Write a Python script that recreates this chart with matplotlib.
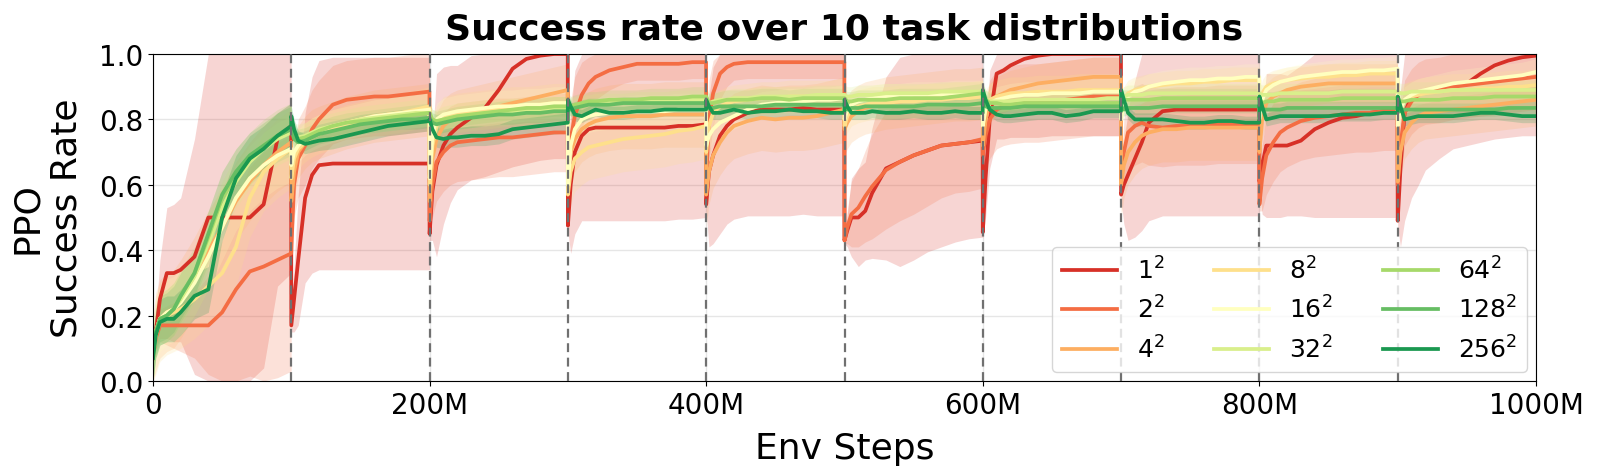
import numpy as np
import matplotlib
matplotlib.use("Agg")
import matplotlib.pyplot as plt
from matplotlib.ticker import FuncFormatter

# ---------------- data ----------------
SEG_STARTS = [0, 100, 200, 300, 400, 500, 600, 700, 800, 900]   # M env steps
OFFSETS = [0, 2, 5, 10, 15, 20, 30, 40, 50, 60, 70, 80, 90, 99.9]

LABELS = ["$1^2$", "$2^2$", "$4^2$", "$8^2$", "$16^2$", "$32^2$", "$64^2$", "$128^2$", "$256^2$"]
COLORS = ["#d73027", "#f46d43", "#fdae61", "#fee08b", "#ffffbf",
          "#d9ef8b", "#a6d96a", "#66bd63", "#1a9850"]

SR_1 = [
    [0.07, 0.15, 0.25, 0.33, 0.33, 0.34, 0.38, 0.50, 0.50, 0.50, 0.50, 0.54, 0.74, 0.78],
    [0.17, 0.25, 0.37, 0.56, 0.63, 0.66, 0.665, 0.665, 0.665, 0.665, 0.665, 0.665, 0.665, 0.665],
    [0.45, 0.58, 0.66, 0.72, 0.755, 0.775, 0.805, 0.835, 0.89, 0.955, 0.985, 0.995, 1.0, 1.0],
    [0.475, 0.60, 0.70, 0.75, 0.77, 0.775, 0.775, 0.775, 0.775, 0.775, 0.775, 0.78, 0.78, 0.785],
    [0.54, 0.64, 0.69, 0.75, 0.78, 0.80, 0.82, 0.83, 0.83, 0.83, 0.835, 0.83, 0.83, 0.83],
    [0.43, 0.46, 0.50, 0.50, 0.52, 0.575, 0.65, 0.67, 0.69, 0.705, 0.72, 0.725, 0.73, 0.735],
    [0.455, 0.62, 0.80, 0.94, 0.95, 0.965, 0.985, 0.995, 1.0, 1.0, 1.0, 1.0, 1.0, 1.0],
    [0.57, 0.60, 0.63, 0.68, 0.73, 0.79, 0.825, 0.83, 0.83, 0.83, 0.83, 0.83, 0.83, 0.83],
    [0.61, 0.66, 0.72, 0.72, 0.72, 0.72, 0.735, 0.77, 0.79, 0.805, 0.81, 0.82, 0.825, 0.825],
    [0.49, 0.65, 0.82, 0.87, 0.88, 0.885, 0.89, 0.90, 0.91, 0.94, 0.965, 0.98, 0.99, 0.995],
]
SR_2 = [
    [0.07, 0.13, 0.17, 0.17, 0.17, 0.17, 0.17, 0.17, 0.21, 0.28, 0.335, 0.35, 0.37, 0.39],
    [0.40, 0.60, 0.68, 0.72, 0.77, 0.80, 0.845, 0.86, 0.865, 0.87, 0.87, 0.875, 0.88, 0.885],
    [0.49, 0.60, 0.67, 0.70, 0.72, 0.73, 0.735, 0.74, 0.745, 0.745, 0.75, 0.755, 0.76, 0.76],
    [0.66, 0.74, 0.81, 0.875, 0.91, 0.93, 0.95, 0.96, 0.97, 0.97, 0.97, 0.97, 0.975, 0.975],
    [0.62, 0.80, 0.88, 0.94, 0.96, 0.97, 0.975, 0.975, 0.975, 0.975, 0.975, 0.975, 0.975, 0.975],
    [0.43, 0.47, 0.51, 0.53, 0.565, 0.595, 0.645, 0.67, 0.69, 0.705, 0.72, 0.725, 0.73, 0.74],
    [0.69, 0.75, 0.80, 0.83, 0.84, 0.845, 0.85, 0.85, 0.855, 0.86, 0.865, 0.87, 0.87, 0.87],
    [0.61, 0.70, 0.76, 0.78, 0.79, 0.78, 0.775, 0.78, 0.78, 0.78, 0.785, 0.785, 0.785, 0.785],
    [0.54, 0.62, 0.69, 0.73, 0.76, 0.775, 0.795, 0.805, 0.81, 0.815, 0.82, 0.82, 0.825, 0.825],
    [0.60, 0.72, 0.82, 0.855, 0.875, 0.885, 0.89, 0.90, 0.905, 0.91, 0.915, 0.92, 0.925, 0.93],
]
SR_4 = [
    [0.07, 0.15, 0.19, 0.21, 0.22, 0.25, 0.32, 0.40, 0.47, 0.55, 0.61, 0.66, 0.70, 0.73],
    [0.55, 0.64, 0.70, 0.73, 0.75, 0.76, 0.775, 0.79, 0.80, 0.81, 0.815, 0.82, 0.825, 0.83],
    [0.55, 0.68, 0.74, 0.78, 0.80, 0.81, 0.82, 0.83, 0.84, 0.85, 0.86, 0.87, 0.88, 0.89],
    [0.65, 0.70, 0.74, 0.77, 0.785, 0.795, 0.805, 0.81, 0.81, 0.81, 0.815, 0.815, 0.815, 0.815],
    [0.57, 0.64, 0.69, 0.73, 0.76, 0.78, 0.795, 0.805, 0.80, 0.805, 0.805, 0.81, 0.82, 0.83],
    [0.77, 0.79, 0.81, 0.825, 0.835, 0.84, 0.85, 0.855, 0.86, 0.865, 0.87, 0.875, 0.875, 0.88],
    [0.72, 0.80, 0.85, 0.87, 0.88, 0.89, 0.90, 0.91, 0.915, 0.92, 0.925, 0.93, 0.93, 0.93],
    [0.60, 0.66, 0.70, 0.73, 0.75, 0.76, 0.77, 0.77, 0.775, 0.775, 0.775, 0.775, 0.775, 0.775],
    [0.70, 0.80, 0.85, 0.87, 0.88, 0.89, 0.90, 0.905, 0.91, 0.91, 0.91, 0.91, 0.91, 0.91],
    [0.61, 0.70, 0.76, 0.79, 0.81, 0.82, 0.825, 0.83, 0.835, 0.84, 0.845, 0.85, 0.855, 0.86],
]
SR_8 = [
    [0.07, 0.14, 0.18, 0.20, 0.21, 0.22, 0.25, 0.29, 0.33, 0.41, 0.56, 0.64, 0.68, 0.71],
    [0.62, 0.68, 0.71, 0.73, 0.745, 0.755, 0.77, 0.785, 0.795, 0.805, 0.815, 0.82, 0.83, 0.84],
    [0.60, 0.72, 0.78, 0.81, 0.815, 0.82, 0.825, 0.83, 0.835, 0.84, 0.84, 0.845, 0.85, 0.85],
    [0.57, 0.64, 0.68, 0.70, 0.715, 0.72, 0.73, 0.74, 0.745, 0.75, 0.755, 0.765, 0.77, 0.78],
    [0.70, 0.78, 0.82, 0.84, 0.85, 0.855, 0.86, 0.865, 0.865, 0.87, 0.87, 0.87, 0.87, 0.875],
    [0.78, 0.81, 0.83, 0.84, 0.845, 0.85, 0.85, 0.855, 0.855, 0.86, 0.86, 0.865, 0.865, 0.87],
    [0.80, 0.84, 0.86, 0.87, 0.875, 0.88, 0.88, 0.885, 0.885, 0.885, 0.89, 0.89, 0.89, 0.89],
    [0.82, 0.86, 0.88, 0.89, 0.895, 0.90, 0.905, 0.91, 0.91, 0.915, 0.915, 0.92, 0.92, 0.92],
    [0.84, 0.88, 0.90, 0.91, 0.915, 0.92, 0.925, 0.93, 0.93, 0.935, 0.935, 0.94, 0.94, 0.94],
    [0.80, 0.84, 0.86, 0.87, 0.875, 0.88, 0.885, 0.89, 0.89, 0.895, 0.895, 0.90, 0.90, 0.905],
]
SR_16 = [
    [0.07, 0.15, 0.19, 0.21, 0.22, 0.24, 0.30, 0.38, 0.47, 0.56, 0.62, 0.66, 0.69, 0.71],
    [0.66, 0.70, 0.72, 0.74, 0.755, 0.765, 0.78, 0.79, 0.80, 0.81, 0.815, 0.82, 0.825, 0.83],
    [0.62, 0.75, 0.80, 0.815, 0.82, 0.825, 0.83, 0.835, 0.84, 0.84, 0.845, 0.845, 0.85, 0.85],
    [0.60, 0.72, 0.77, 0.80, 0.81, 0.815, 0.82, 0.82, 0.825, 0.825, 0.825, 0.83, 0.83, 0.83],
    [0.72, 0.75, 0.77, 0.79, 0.80, 0.81, 0.83, 0.845, 0.85, 0.855, 0.855, 0.86, 0.86, 0.865],
    [0.80, 0.83, 0.845, 0.855, 0.86, 0.865, 0.87, 0.87, 0.875, 0.875, 0.875, 0.88, 0.88, 0.88],
    [0.78, 0.83, 0.85, 0.86, 0.865, 0.87, 0.875, 0.875, 0.88, 0.88, 0.88, 0.885, 0.885, 0.885],
    [0.80, 0.85, 0.87, 0.885, 0.89, 0.90, 0.91, 0.915, 0.92, 0.92, 0.925, 0.925, 0.93, 0.93],
    [0.80, 0.86, 0.89, 0.905, 0.915, 0.92, 0.93, 0.935, 0.94, 0.945, 0.945, 0.95, 0.95, 0.955],
    [0.78, 0.83, 0.86, 0.875, 0.885, 0.89, 0.90, 0.91, 0.915, 0.92, 0.925, 0.93, 0.935, 0.945],
]
SR_32 = [
    [0.07, 0.15, 0.19, 0.20, 0.22, 0.25, 0.32, 0.42, 0.53, 0.61, 0.67, 0.71, 0.74, 0.76],
    [0.76, 0.75, 0.745, 0.75, 0.76, 0.77, 0.78, 0.79, 0.80, 0.805, 0.81, 0.815, 0.82, 0.82],
    [0.82, 0.79, 0.79, 0.80, 0.805, 0.81, 0.815, 0.82, 0.82, 0.825, 0.825, 0.83, 0.83, 0.83],
    [0.83, 0.835, 0.84, 0.845, 0.845, 0.85, 0.85, 0.85, 0.855, 0.855, 0.855, 0.86, 0.86, 0.86],
    [0.86, 0.85, 0.855, 0.86, 0.86, 0.865, 0.865, 0.87, 0.87, 0.87, 0.87, 0.875, 0.875, 0.875],
    [0.875, 0.87, 0.87, 0.875, 0.875, 0.875, 0.88, 0.88, 0.88, 0.88, 0.885, 0.885, 0.885, 0.885],
    [0.885, 0.86, 0.855, 0.855, 0.855, 0.855, 0.86, 0.86, 0.86, 0.86, 0.86, 0.86, 0.865, 0.865],
    [0.865, 0.87, 0.875, 0.875, 0.875, 0.88, 0.88, 0.88, 0.88, 0.88, 0.88, 0.88, 0.88, 0.88],
    [0.88, 0.875, 0.875, 0.875, 0.88, 0.88, 0.88, 0.88, 0.88, 0.885, 0.885, 0.885, 0.885, 0.885],
    [0.885, 0.88, 0.88, 0.885, 0.885, 0.885, 0.885, 0.89, 0.89, 0.89, 0.89, 0.89, 0.89, 0.89],
]
SR_64 = [
    [0.07, 0.15, 0.19, 0.20, 0.22, 0.26, 0.33, 0.44, 0.56, 0.63, 0.68, 0.72, 0.75, 0.77],
    [0.77, 0.75, 0.74, 0.745, 0.755, 0.765, 0.78, 0.79, 0.795, 0.80, 0.805, 0.81, 0.815, 0.82],
    [0.82, 0.80, 0.795, 0.80, 0.805, 0.81, 0.815, 0.82, 0.825, 0.83, 0.835, 0.835, 0.84, 0.84],
    [0.85, 0.84, 0.845, 0.85, 0.855, 0.855, 0.86, 0.86, 0.86, 0.865, 0.865, 0.865, 0.87, 0.87],
    [0.87, 0.85, 0.85, 0.855, 0.86, 0.86, 0.86, 0.865, 0.865, 0.86, 0.865, 0.865, 0.865, 0.865],
    [0.865, 0.855, 0.855, 0.86, 0.86, 0.86, 0.86, 0.865, 0.865, 0.865, 0.865, 0.87, 0.875, 0.88],
    [0.88, 0.86, 0.85, 0.85, 0.845, 0.845, 0.85, 0.85, 0.85, 0.85, 0.85, 0.85, 0.85, 0.85],
    [0.85, 0.86, 0.86, 0.86, 0.86, 0.86, 0.865, 0.865, 0.865, 0.865, 0.865, 0.865, 0.865, 0.865],
    [0.865, 0.85, 0.855, 0.855, 0.86, 0.86, 0.86, 0.86, 0.86, 0.865, 0.865, 0.865, 0.865, 0.865],
    [0.865, 0.855, 0.855, 0.86, 0.86, 0.86, 0.86, 0.865, 0.865, 0.865, 0.87, 0.87, 0.87, 0.87],
]
SR_128 = [
    [0.07, 0.15, 0.19, 0.20, 0.22, 0.26, 0.33, 0.45, 0.57, 0.64, 0.69, 0.72, 0.75, 0.77],
    [0.77, 0.74, 0.73, 0.735, 0.745, 0.755, 0.765, 0.775, 0.785, 0.79, 0.795, 0.80, 0.80, 0.805],
    [0.805, 0.79, 0.785, 0.79, 0.795, 0.80, 0.805, 0.81, 0.815, 0.815, 0.82, 0.82, 0.825, 0.825],
    [0.84, 0.83, 0.835, 0.84, 0.845, 0.845, 0.845, 0.85, 0.85, 0.85, 0.85, 0.85, 0.85, 0.85],
    [0.85, 0.835, 0.835, 0.84, 0.84, 0.84, 0.84, 0.84, 0.845, 0.845, 0.845, 0.845, 0.845, 0.845],
    [0.845, 0.83, 0.835, 0.835, 0.84, 0.84, 0.84, 0.84, 0.84, 0.845, 0.845, 0.845, 0.845, 0.85],
    [0.85, 0.84, 0.835, 0.835, 0.835, 0.835, 0.84, 0.84, 0.84, 0.84, 0.84, 0.84, 0.84, 0.84],
    [0.84, 0.83, 0.835, 0.835, 0.835, 0.835, 0.84, 0.84, 0.84, 0.84, 0.84, 0.84, 0.84, 0.84],
    [0.84, 0.83, 0.83, 0.83, 0.83, 0.835, 0.835, 0.835, 0.835, 0.835, 0.835, 0.835, 0.835, 0.835],
    [0.835, 0.825, 0.83, 0.83, 0.83, 0.83, 0.83, 0.83, 0.83, 0.83, 0.83, 0.835, 0.835, 0.835],
]
SR_256 = [
    [0.07, 0.14, 0.18, 0.19, 0.19, 0.21, 0.26, 0.28, 0.50, 0.62, 0.68, 0.71, 0.75, 0.78],
    [0.81, 0.77, 0.735, 0.725, 0.73, 0.735, 0.74, 0.75, 0.76, 0.77, 0.78, 0.785, 0.79, 0.795],
    [0.80, 0.77, 0.745, 0.74, 0.745, 0.745, 0.75, 0.75, 0.755, 0.77, 0.775, 0.78, 0.785, 0.79],
    [0.86, 0.84, 0.815, 0.81, 0.82, 0.83, 0.82, 0.82, 0.825, 0.825, 0.83, 0.83, 0.83, 0.83],
    [0.86, 0.84, 0.82, 0.82, 0.825, 0.83, 0.82, 0.825, 0.825, 0.83, 0.825, 0.825, 0.82, 0.82],
    [0.86, 0.84, 0.82, 0.82, 0.82, 0.825, 0.82, 0.82, 0.825, 0.82, 0.82, 0.825, 0.82, 0.82],
    [0.89, 0.86, 0.83, 0.815, 0.81, 0.81, 0.815, 0.82, 0.82, 0.81, 0.815, 0.825, 0.825, 0.825],
    [0.89, 0.86, 0.82, 0.80, 0.80, 0.80, 0.80, 0.795, 0.79, 0.79, 0.795, 0.795, 0.79, 0.79],
    [0.87, 0.84, 0.80, 0.805, 0.81, 0.81, 0.81, 0.81, 0.81, 0.815, 0.815, 0.815, 0.82, 0.82],
    [0.87, 0.84, 0.80, 0.805, 0.81, 0.81, 0.81, 0.81, 0.815, 0.82, 0.82, 0.815, 0.81, 0.81],
]

# spread (std across seeds) for the two widest bands, at the same points
SD_1 = [
    [0.0, 0.05, 0.12, 0.20, 0.21, 0.22, 0.36, 0.50, 0.50, 0.50, 0.50, 0.50, 0.45, 0.45],
    [0.02, 0.10, 0.20, 0.26, 0.30, 0.32, 0.325, 0.325, 0.325, 0.325, 0.325, 0.325, 0.325, 0.325],
    [0.02, 0.15, 0.28, 0.24, 0.21, 0.19, 0.19, 0.21, 0.25, 0.30, 0.32, 0.32, 0.32, 0.32],
    [0.02, 0.21, 0.25, 0.26, 0.28, 0.285, 0.285, 0.285, 0.285, 0.285, 0.285, 0.285, 0.285, 0.285],
    [0.02, 0.23, 0.27, 0.30, 0.30, 0.305, 0.315, 0.325, 0.325, 0.325, 0.325, 0.325, 0.325, 0.325],
    [0.01, 0.05, 0.12, 0.15, 0.15, 0.20, 0.28, 0.32, 0.32, 0.31, 0.31, 0.30, 0.295, 0.295],
    [0.02, 0.12, 0.15, 0.20, 0.21, 0.22, 0.24, 0.25, 0.25, 0.25, 0.25, 0.25, 0.25, 0.25],
    [0.02, 0.12, 0.20, 0.24, 0.27, 0.30, 0.32, 0.325, 0.325, 0.325, 0.325, 0.325, 0.325, 0.325],
    [0.02, 0.15, 0.22, 0.22, 0.22, 0.215, 0.23, 0.27, 0.29, 0.305, 0.31, 0.32, 0.325, 0.325],
    [0.02, 0.24, 0.33, 0.31, 0.28, 0.24, 0.21, 0.19, 0.19, 0.21, 0.225, 0.235, 0.24, 0.245],
]
SD_2 = [
    [0.0, 0.03, 0.05, 0.06, 0.07, 0.08, 0.10, 0.15, 0.22, 0.28, 0.32, 0.35, 0.36, 0.36],
    [0.02, 0.10, 0.12, 0.12, 0.12, 0.12, 0.12, 0.12, 0.12, 0.12, 0.12, 0.12, 0.12, 0.12],
    [0.02, 0.10, 0.12, 0.12, 0.12, 0.12, 0.12, 0.12, 0.12, 0.12, 0.12, 0.12, 0.12, 0.12],
    [0.02, 0.12, 0.12, 0.10, 0.08, 0.07, 0.06, 0.05, 0.05, 0.05, 0.05, 0.05, 0.05, 0.05],
    [0.02, 0.12, 0.10, 0.08, 0.06, 0.05, 0.05, 0.05, 0.05, 0.05, 0.05, 0.05, 0.05, 0.05],
    [0.01, 0.05, 0.10, 0.12, 0.14, 0.16, 0.18, 0.18, 0.18, 0.17, 0.16, 0.15, 0.15, 0.15],
    [0.02, 0.10, 0.12, 0.12, 0.12, 0.12, 0.12, 0.12, 0.12, 0.12, 0.12, 0.12, 0.12, 0.12],
    [0.02, 0.10, 0.12, 0.12, 0.12, 0.12, 0.12, 0.12, 0.12, 0.12, 0.12, 0.12, 0.12, 0.12],
    [0.02, 0.10, 0.12, 0.12, 0.12, 0.12, 0.12, 0.12, 0.12, 0.12, 0.12, 0.12, 0.12, 0.12],
    [0.02, 0.10, 0.10, 0.10, 0.10, 0.10, 0.10, 0.10, 0.10, 0.10, 0.10, 0.10, 0.10, 0.10],
]
# per-segment spread for the narrower bands
SPREAD_4 = [0.12, 0.08, 0.08, 0.10, 0.10, 0.08, 0.06, 0.10, 0.06, 0.08]
SPREAD_8 = [0.12, 0.06, 0.06, 0.10, 0.05, 0.05, 0.05, 0.04, 0.04, 0.05]
SPREAD_16 = [0.10, 0.05, 0.05, 0.05, 0.04, 0.04, 0.04, 0.04, 0.04, 0.04]
SPREAD_32 = [0.08, 0.04, 0.04, 0.03, 0.03, 0.03, 0.03, 0.03, 0.03, 0.03]
SPREAD_64 = [0.08, 0.03, 0.03, 0.03, 0.03, 0.03, 0.03, 0.03, 0.03, 0.03]
SPREAD_128 = [0.07, 0.03, 0.03, 0.02, 0.02, 0.02, 0.02, 0.02, 0.02, 0.02]
SPREAD_256 = [0.07, 0.03, 0.03, 0.02, 0.02, 0.02, 0.02, 0.02, 0.02, 0.02]

# ---------------- assemble ----------------
x = np.array([s + o for s in SEG_STARTS for o in OFFSETS])
n_off = len(OFFSETS)


def flat(rows):
    return np.array([v for r in rows for v in r], dtype=float)


def seg_spread(per_seg):
    return np.array([v for v in per_seg for _ in range(n_off)], dtype=float)


means = [SR_1, SR_2, SR_4, SR_8, SR_16, SR_32, SR_64, SR_128, SR_256]
spreads = [flat(SD_1), flat(SD_2), seg_spread(SPREAD_4), seg_spread(SPREAD_8),
           seg_spread(SPREAD_16), seg_spread(SPREAD_32), seg_spread(SPREAD_64),
           seg_spread(SPREAD_128), seg_spread(SPREAD_256)]

fig = plt.figure(figsize=(16, 4.77), dpi=100)
ax = fig.add_axes([153 / 1600, 1 - 382 / 477, (1536 - 153) / 1600, (382 - 55) / 477])

ax.grid(True, color="#e6e6e6", linewidth=1.0)
ax.set_axisbelow(True)

for m_rows, sd, col, lab in zip(means, spreads, COLORS, LABELS):
    m = flat(m_rows)
    lo = np.clip(m - sd, 0, 1)
    hi = np.clip(m + sd, 0, 1)
    ax.fill_between(x, lo, hi, color=col, alpha=0.2, linewidth=0)
    ax.plot(x, m, color=col, linewidth=2.7, label=lab)

for s in SEG_STARTS[1:]:
    ax.axvline(s, color="#707070", linestyle=(0, (4, 2.5)), linewidth=1.6, zorder=5)

ax.set_xlim(0, 1000)
ax.set_ylim(0, 1)
ax.set_xticks([0, 200, 400, 600, 800, 1000])
ax.xaxis.set_major_formatter(FuncFormatter(lambda v, p: "0" if v == 0 else f"{int(v)}M"))
ax.set_yticks([0.0, 0.2, 0.4, 0.6, 0.8, 1.0])
ax.tick_params(labelsize=20)
ax.set_xlabel("Env Steps", fontsize=26, labelpad=9)
ax.set_ylabel("PPO\nSuccess Rate", fontsize=26, labelpad=11)
ax.set_title("Success rate over 10 task distributions", fontsize=26, fontweight="bold", pad=11)

ax.legend(loc="lower right", ncol=3, fontsize=18, labelspacing=0.48, handlelength=2.2,
          borderaxespad=0.35)

fig.savefig("out.png", dpi=100)
